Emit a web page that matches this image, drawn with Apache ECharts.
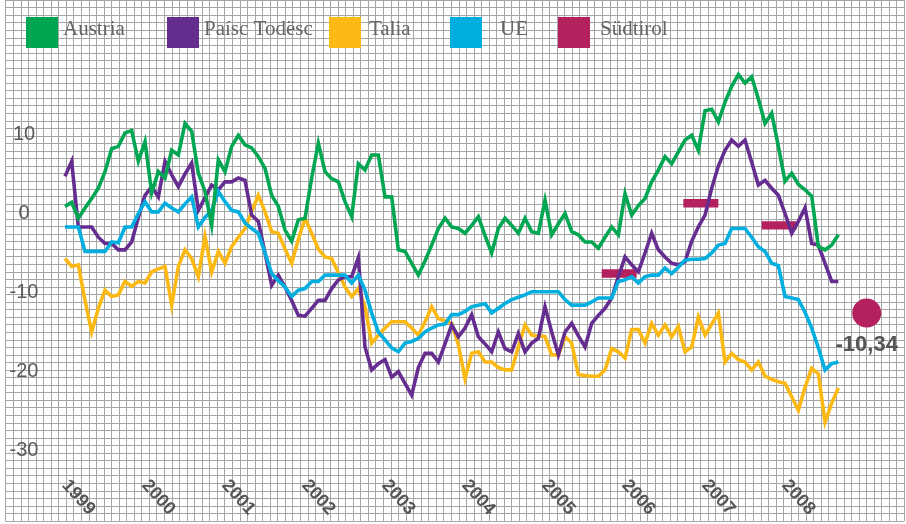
<!DOCTYPE html>
<html>
<head>
<meta charset="utf-8">
<script src="https://cdn.jsdelivr.net/npm/echarts@6/dist/echarts.min.js"></script>
<style>
  html, body { margin: 0; padding: 0; background: #fff; }
  #chart { width: 906px; height: 524px; }
</style>
</head>
<body>
<div id="chart"></div>
<script>
// monthly values, Jan 1999 = index 0
const years = ['1999', '2000', '2001', '2002', '2003', '2004', '2005', '2006', '2007', '2008'];
const names = ['Austria', 'Paísc Todësc', 'Talia', 'UE', 'Südtirol'];

const austria = [
  0.9, 1.4, -0.6, 0.7, 1.9, 3.2, 5.3, 8.2, 8.5, 10.2,
  10.5, 6.6, 9.1, 2.6, 5.3, 4.5, 8.0, 7.4, 11.4, 10.4,
  5.1, 2.8, -1.5, 6.8, 5.3, 8.5, 9.9, 8.7, 8.3, 7.2,
  5.7, 2.3, 0.9, -2.1, -3.5, -0.8, -0.6, 4.5, 8.9, 5.3,
  4.4, 4.0, 1.5, -0.4, 6.3, 5.5, 7.4, 7.4, 2.1, 2.1,
  -4.6, -4.8, -6.3, -7.8, -6.0, -4.0, -1.9, -0.6, -1.7, -1.9,
  -2.5, -1.5, -0.4, -2.8, -5.0, -1.9, -0.6, -1.5, -2.5, -0.6,
  -2.3, -2.5, 1.7, -2.7, -1.3, 0.0, -2.3, -2.7, -3.6, -3.6,
  -4.4, -3.0, -1.7, -2.7, 2.5, -0.2, 1.0, 1.9, 4.0, 5.5,
  7.2, 6.3, 7.8, 9.3, 9.9, 8.0, 13.0, 13.2, 11.6, 14.1,
  16.1, 17.6, 16.5, 17.3, 14.5, 11.4, 12.7, 8.5, 4.1, 5.1,
  3.7, 3.0, 2.2, -4.2, -4.6, -4.0, -2.7
];
const germany = [
  4.7, 6.6, -1.7, -1.7, -1.7, -3.0, -3.8, -3.8, -4.6, -4.6,
  -3.6, -0.5, 2.3, 3.4, 2.1, 6.6, 4.9, 3.4, 5.0, 6.4,
  0.4, 2.0, 3.6, 3.0, 4.0, 4.0, 4.5, 4.2, -0.2, -1.0,
  -5.0, -9.1, -7.8, -9.3, -11.0, -12.9, -13.0, -12.0, -11.0, -11.0,
  -9.5, -8.4, -8.0, -8.0, -5.6, -16.9, -19.8, -19.0, -18.5, -20.7,
  -20.0, -21.5, -23.0, -19.5, -17.7, -17.7, -18.8, -16.5, -14.1, -15.6,
  -14.5, -12.8, -15.6, -16.5, -17.5, -15.0, -17.1, -17.5, -15.2, -17.5,
  -16.4, -15.8, -11.8, -15.0, -17.9, -15.0, -13.9, -15.5, -16.9, -13.9,
  -12.9, -12.0, -10.7, -8.0, -5.5, -6.5, -7.4, -5.0, -2.5, -4.6,
  -5.5, -6.3, -6.5, -6.1, -3.5, -1.7, -0.2, 3.2, 6.0, 8.0,
  9.3, 8.5, 9.3, 6.5, 3.6, 4.2, 3.2, 2.3, 0.0, -2.5,
  -1.0, 0.7, -3.8, -4.0, -6.3, -8.6, -8.6
];
const italy = [
  -5.7, -6.7, -6.5, -11.0, -15.0, -12.0, -9.7, -10.5, -10.3, -8.6,
  -9.2, -8.6, -8.8, -7.4, -7.0, -6.7, -11.6, -6.7, -4.6, -5.7,
  -8.0, -2.9, -7.4, -4.8, -6.3, -4.2, -3.0, -1.9, 0.2, 2.3,
  0.2, -2.3, -2.5, -4.5, -6.3, -3.3, -0.6, -2.5, -4.5, -5.5,
  -5.7, -7.5, -9.3, -10.5, -9.5, -11.8, -16.4, -15.4, -14.5, -13.7,
  -13.7, -13.7, -14.5, -15.4, -13.7, -11.8, -13.3, -13.6, -13.9, -16.6,
  -20.9, -17.7, -17.5, -18.8, -18.8, -19.5, -19.8, -19.8, -16.9, -14.1,
  -15.4, -15.5, -15.6, -17.9, -17.9, -15.6, -16.4, -20.4, -20.5, -20.6,
  -20.6, -19.8, -17.1, -17.5, -18.3, -14.7, -14.7, -16.4, -13.9, -15.4,
  -14.1, -15.6, -14.3, -17.5, -16.9, -13.1, -15.4, -14.0, -12.6, -18.8,
  -17.7, -18.5, -18.8, -19.8, -18.8, -20.6, -21.0, -21.3, -21.5, -23.2,
  -24.9, -22.0, -19.6, -20.3, -26.4, -24.0, -22.1
];
const eu = [
  -1.7, -1.7, -1.7, -4.8, -4.8, -4.8, -4.8, -3.6, -3.7, -1.7,
  -1.7, 0.0, 1.5, 0.2, 0.2, 1.3, 0.7, 0.2, 1.2, 2.1,
  -1.7, -0.5, 0.4, 2.8, 1.5, 0.4, 0.2, -1.2, -1.9, -2.5,
  -5.0, -7.6, -8.5, -9.3, -10.5, -9.7, -9.5, -8.6, -8.6, -7.8,
  -7.8, -7.8, -7.8, -8.8, -7.8, -9.7, -12.6, -15.0, -16.0, -17.0,
  -17.5, -16.4, -16.2, -15.8, -15.0, -14.5, -14.1, -14.0, -12.8, -12.8,
  -12.4, -11.8, -11.6, -11.4, -12.6, -12.0, -11.4, -10.9, -10.6, -10.3,
  -9.9, -9.9, -9.9, -9.9, -9.9, -10.9, -11.6, -11.6, -11.6, -11.2,
  -10.7, -10.7, -10.7, -8.6, -8.4, -8.0, -8.8, -8.0, -7.8, -7.8,
  -6.9, -7.6, -6.8, -5.9, -5.8, -5.8, -5.7, -5.0, -4.0, -3.8,
  -1.9, -1.9, -1.9, -3.0, -4.2, -4.8, -6.3, -6.6, -10.5, -10.7,
  -10.9, -12.5, -14.5, -17.0, -19.8, -19.0, -18.8
];
// Südtirol: [from month, to month, value]
const suedtirolBars = [[80.5, 85.75, -7.6], [92.75, 98, 1.3], [104.5, 109.75, -1.5]];
const suedtirolLast = [120.25, -12.6];
const suedtirolLabel = '-10,34';

const colors = {
  'Austria': '#00a651',
  'Paísc Todësc': '#662d91',
  'Talia': '#fdb913',
  'UE': '#00aee0',
  'Südtirol': '#b5205f'
};
const legendLeft = [21, 162, 324, 445, 553];
const legendPad = [0, 0, 3, 13, 5];

const pairs = arr => arr.map((v, i) => [i, v]);

function lineSeries(name, data) {
  return {
    name, type: 'line', xAxisIndex: 1, yAxisIndex: 1,
    data: pairs(data), showSymbol: false, symbol: 'none',
    lineStyle: { width: 3.6, color: colors[name], join: 'miter' },
    itemStyle: { color: colors[name] },
    animation: false
  };
}

const chart = echarts.init(document.getElementById('chart'));
chart.setOption({
  animation: false,
  backgroundColor: '#fff',
  legend: names.map((n, i) => ({
    data: [n], left: legendLeft[i], top: 12, itemWidth: 32, itemHeight: 31,
    icon: 'rect', selectedMode: false,
    formatter: '{t|{name}}',
    textStyle: {
      rich: {
        t: { fontFamily: 'Liberation Serif', fontSize: 21, color: '#666', padding: [0, 0, 6, legendPad[i]] }
      }
    }
  })),
  grid: [
    { left: 5.74, right: 1.76, top: 0, bottom: 3.05 },
    { left: 65, right: 14.3, top: 55.5, bottom: 73.5 }
  ],
  xAxis: [
    {
      gridIndex: 0, type: 'value', min: 0, max: 119, interval: 1,
      axisLine: { show: false }, axisTick: { show: false }, axisLabel: { show: false },
      splitLine: { show: true, lineStyle: { color: '#a6a6a6', width: 1 } }
    },
    {
      gridIndex: 1, type: 'value', min: 0, max: 124, interval: 12,
      axisLine: { show: false }, axisTick: { show: false }, splitLine: { show: false },
      axisLabel: {
        rotate: -48, margin: 32, fontFamily: 'Liberation Sans', fontWeight: 'bold',
        fontSize: 18, color: '#555',
        formatter: v => years[v / 12] || ''
      }
    }
  ],
  yAxis: [
    {
      gridIndex: 0, type: 'value', min: 0, max: 69, interval: 1,
      axisLine: { show: false }, axisTick: { show: false }, axisLabel: { show: false },
      splitLine: { show: true, lineStyle: { color: '#a6a6a6', width: 1 } }
    },
    {
      gridIndex: 1, type: 'value', min: -30, max: 20, interval: 10,
      axisLine: { show: false }, axisTick: { show: false }, splitLine: { show: false },
      axisLabel: {
        align: 'center', margin: 41, fontFamily: 'Liberation Sans', fontSize: 20, color: '#5a5a5a',
        formatter: v => (v === 20 ? '' : String(v))
      }
    }
  ],
  series: [
    lineSeries('Talia', italy),
    lineSeries('Paísc Todësc', germany),
    lineSeries('UE', eu),
    lineSeries('Austria', austria),
    {
      name: 'Südtirol', type: 'custom', xAxisIndex: 1, yAxisIndex: 1,
      data: suedtirolBars,
      encode: { x: [0, 1], y: 2 },
      itemStyle: { color: colors['Südtirol'] },
      renderItem: (params, api) => {
        const a = api.coord([api.value(0), api.value(2)]);
        const b = api.coord([api.value(1), api.value(2)]);
        return {
          type: 'rect',
          shape: { x: a[0], y: a[1] - 4.2, width: b[0] - a[0], height: 8.4 },
          style: { fill: colors['Südtirol'] }
        };
      }
    },
    {
      name: 'Südtirol', type: 'scatter', xAxisIndex: 1, yAxisIndex: 1,
      data: [suedtirolLast], symbolSize: 29,
      itemStyle: { color: colors['Südtirol'], opacity: 1 },
      label: {
        show: true, position: 'bottom', distance: 6, formatter: suedtirolLabel,
        fontFamily: 'Liberation Sans', fontWeight: 'bold', fontSize: 22, color: '#555'
      }
    }
  ]
});
</script>
</body>
</html>
